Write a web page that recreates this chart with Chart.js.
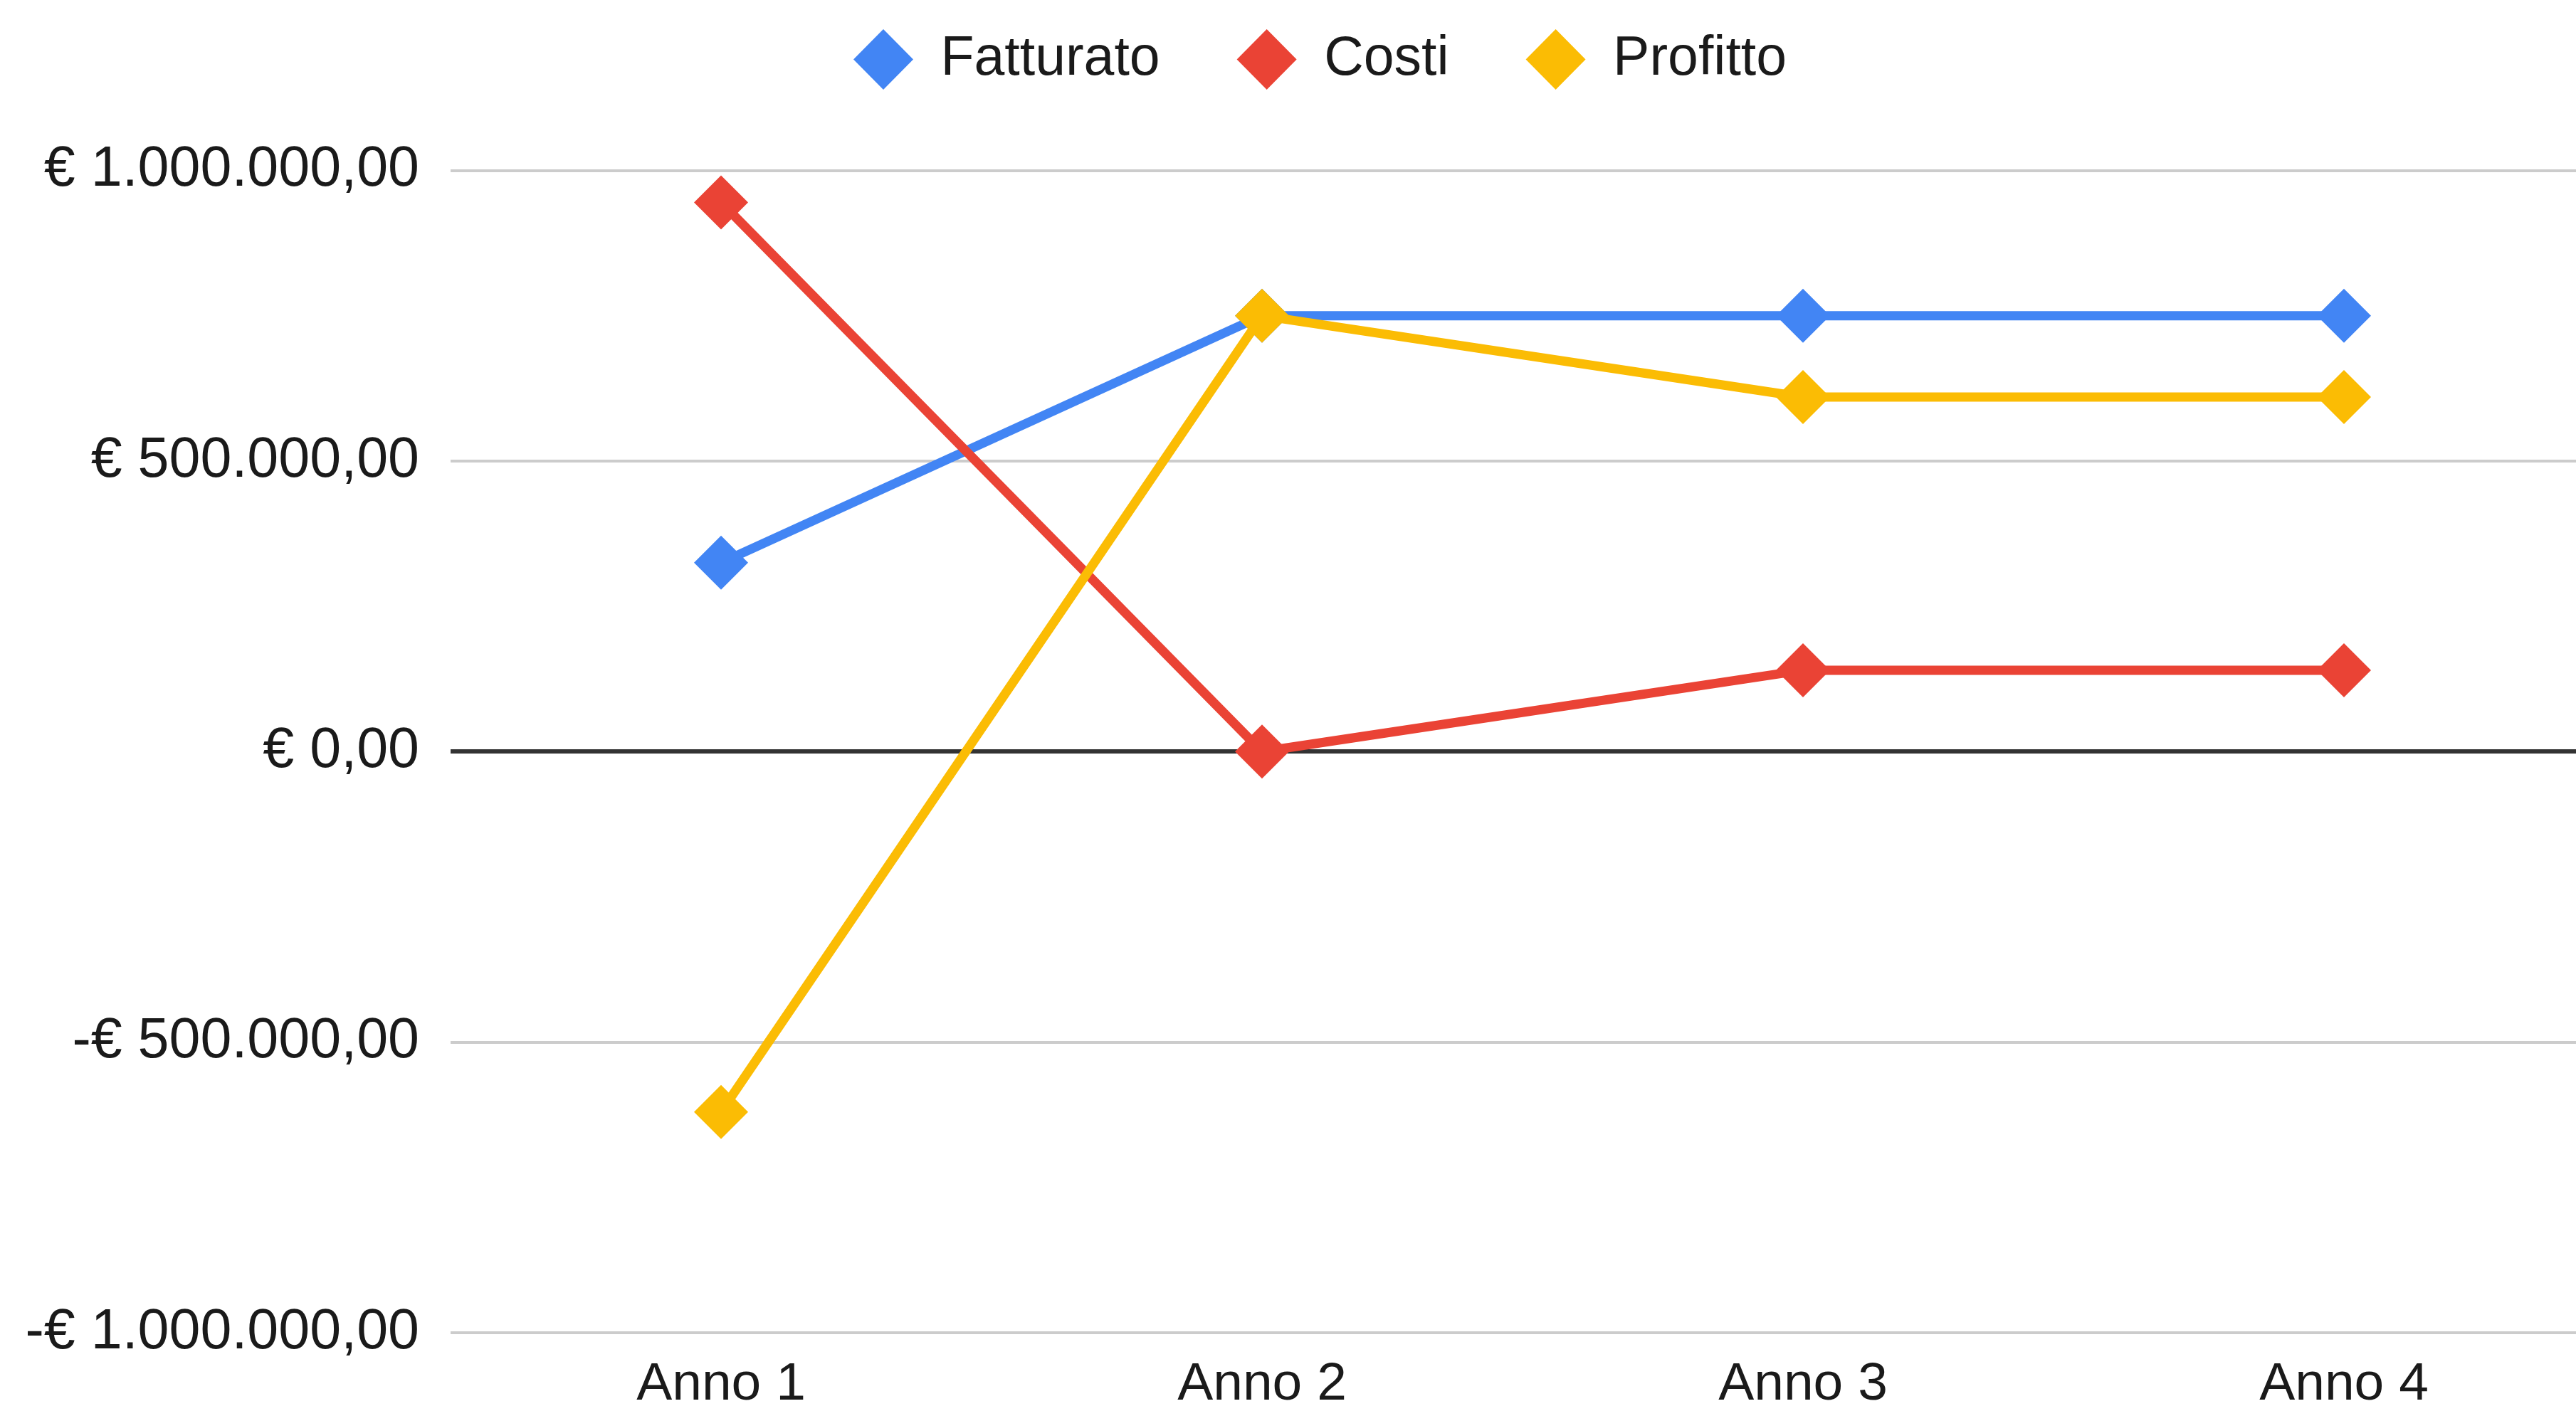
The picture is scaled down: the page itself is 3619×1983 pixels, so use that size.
<!DOCTYPE html>
<html>
<head>
<meta charset="utf-8">
<script src="https://cdn.jsdelivr.net/npm/chart.js@4/dist/chart.umd.min.js"></script>
<style>
  html, body { margin: 0; padding: 0; background: #ffffff; overflow: hidden; }
  #wrap { position: absolute; left: 0; top: 0; width: 3673px; height: 1983px; }
</style>
</head>
<body>
<div id="wrap"><canvas id="c" width="3673" height="1983"></canvas></div>
<script>
const categories = ['Anno 1', 'Anno 2', 'Anno 3', 'Anno 4'];
const fatturato = [325000, 750000, 750000, 750000];
const costi = [945000, 0, 140000, 140000];
const profitto = [-620000, 750000, 610000, 610000];
const yTickLabels = ['-€ 1.000.000,00', '-€ 500.000,00', '€ 0,00', '€ 500.000,00', '€ 1.000.000,00'];

const legendSpacer = {
  id: 'legendSpacer',
  beforeLayout(chart) {
    const lg = chart.legend;
    if (lg && !lg.__wrapped) {
      const orig = lg.fit;
      lg.fit = function () { orig.call(this); this.height = 302.5; };
      lg.__wrapped = true;
    }
  }
};

function ds(label, data, color, order) {
  return {
    label, data, order,
    borderColor: color,
    backgroundColor: color,
    pointBackgroundColor: color,
    pointBorderColor: color,
    pointBorderWidth: 0,
    borderWidth: 13,
    pointStyle: 'rectRot',
    pointRadius: 38,
    pointHoverRadius: 38,
    tension: 0,
    fill: false,
    clip: false
  };
}

new Chart(document.getElementById('c'), {
  type: 'line',
  data: {
    labels: categories,
    datasets: [
      ds('Fatturato', fatturato, '#4285F4', 3),
      ds('Costi', costi, '#EA4335', 2),
      ds('Profitto', profitto, '#FBBC04', 1)
    ]
  },
  plugins: [legendSpacer],
  options: {
    responsive: false,
    animation: false,
    devicePixelRatio: 1,
    layout: { autoPadding: false, padding: { top: -63, left: 36, right: 0, bottom: 0 } },
    plugins: {
      legend: {
        display: true,
        position: 'top',
        labels: {
          usePointStyle: true,
          pointStyleWidth: 84,
          boxWidth: 84,
          boxHeight: 60,
          padding: 108,
          color: '#1a1a1a',
          font: { family: 'Liberation Sans, Arial, sans-serif', size: 77 },
          sort: (a, b) => a.datasetIndex - b.datasetIndex
        }
      },
      tooltip: { enabled: false }
    },
    scales: {
      x: {
        type: 'category',
        offset: true,
        grid: { display: false, drawTicks: false },
        border: { display: false },
        ticks: {
          color: '#1a1a1a',
          padding: 28,
          maxRotation: 0,
          font: { family: 'Liberation Sans, Arial, sans-serif', size: 75 }
        },
        afterFit(scale) { scale.height = 110; scale.paddingLeft = 0; scale.paddingRight = 0; }
      },
      y: {
        min: -1000000,
        max: 1000000,
        border: { display: false },
        grid: {
          drawTicks: false,
          color: (c) => (c.tick && c.tick.value === 0) ? '#333333' : '#cccccc',
          lineWidth: (c) => (c.tick && c.tick.value === 0) ? 6 : 4
        },
        ticks: {
          stepSize: 500000,
          padding: 44,
          color: '#1a1a1a',
          font: { family: 'Liberation Sans, Arial, sans-serif', size: 79 },
          callback: (v, i) => yTickLabels[i]
        },
        afterFit(scale) { scale.width = 597; }
      }
    }
  }
});
</script>
</body>
</html>
